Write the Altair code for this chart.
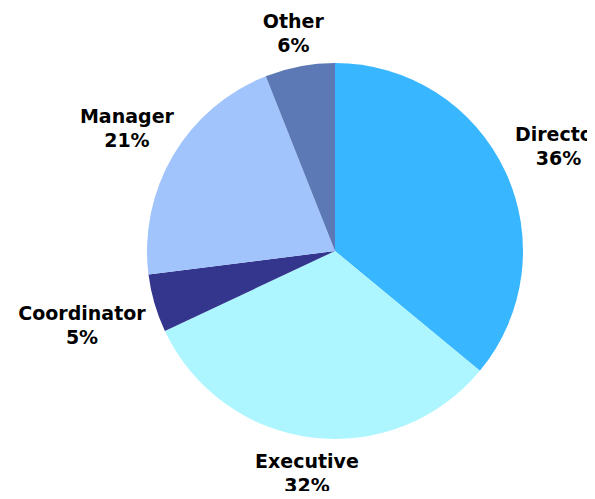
import altair as alt
import pandas as pd
import numpy as np

categories = ["Director", "Executive", "Coordinator", "Manager", "Other"]
shares = [36, 32, 5, 21, 6]
colors = ["#38b6ff", "#adf6ff", "#33368c", "#a2c4fc", "#5c78b5"]

R = 188
gap = 7
font_size = 19
char_w = 11.8
half_h = 22

df = pd.DataFrame({
    "category": categories,
    "share": shares,
    "order": list(range(len(categories))),
})
df["label"] = [f"{c}\n{s}%" for c, s in zip(categories, shares)]
total = sum(shares)
df["mid"] = np.cumsum(shares) - np.array(shares) / 2
ang = df["mid"].to_numpy() / total * 2 * np.pi
widths = np.array([max(len(c), len(f"{s}%")) for c, s in zip(categories, shares)]) * char_w
df["lr"] = R + gap + np.abs(np.sin(ang)) * widths / 2 + np.abs(np.cos(ang)) * half_h

pad = 6
cx, cy = 327 - pad, 243 - pad

pie = alt.Chart(df).mark_arc(outerRadius=R).encode(
    theta=alt.Theta("share:Q", stack=True, scale=alt.Scale(domain=[0, total], range=[0, 2 * np.pi])),
    order=alt.Order("order:Q"),
    x=alt.value(cx),
    y=alt.value(cy),
    color=alt.Color("category:N", scale=alt.Scale(domain=categories, range=colors), legend=None),
)

text = alt.Chart(df).mark_text(
    lineBreak="\n", lineHeight=24, font="DejaVu Sans", fontWeight="bold", fontSize=font_size,
    color="#000000", align="center", baseline="middle", dy=-11,
).encode(
    theta=alt.Theta("mid:Q", stack=None, scale=alt.Scale(domain=[0, total], range=[0, 2 * np.pi])),
    radius=alt.Radius("lr:Q", scale=None),
    x=alt.value(cx),
    y=alt.value(cy),
    text="label:N",
)

chart = alt.layer(pie, text).resolve_scale(theta="independent").properties(
    width=579 - 2 * pad, height=483 - 2 * pad, padding=pad, autosize="none",
    background="#ffffff",
).configure_view(strokeWidth=0)

chart.save("out.html", embed_options={"renderer": "svg", "actions": False})
